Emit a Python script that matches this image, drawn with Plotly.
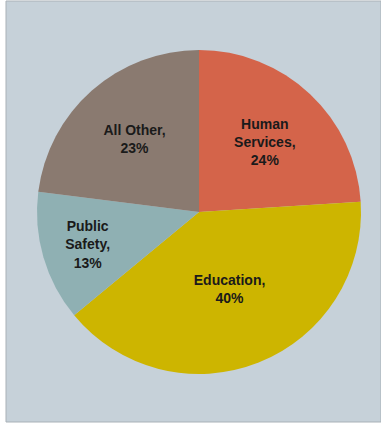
import plotly.graph_objects as go

# Budget share by function (percent of total)
categories = ["Human<br>Services", "Education", "Public<br>Safety", "All Other"]
shares = [24, 40, 13, 23]
slice_colors = ["#d4644a", "#cdb500", "#8fb0b3", "#8a7a70"]

W, H = 381, 425
cx, cy, r = 199, 212, 162  # pie centre and radius in pixels

fig = go.Figure(
    go.Pie(
        labels=categories,
        values=shares,
        sort=False,
        direction="clockwise",
        rotation=0,
        marker=dict(colors=slice_colors, line=dict(width=0)),
        texttemplate="<b>%{label},<br>%{value}%</b>",
        textposition="inside",
        insidetextorientation="horizontal",
        textfont=dict(family="Liberation Sans, Arial, sans-serif", size=14, color="#1a1a1a"),
        hoverinfo="label+percent",
        showlegend=False,
        domain=dict(
            x=[(cx - r) / W, (cx + r) / W],
            y=[(H - cy - r) / H, (H - cy + r) / H],
        ),
    )
)

fig.update_layout(
    width=W,
    height=H,
    margin=dict(l=0, r=0, t=0, b=0),
    paper_bgcolor="white",
    plot_bgcolor="white",
    shapes=[
        dict(
            type="rect", xref="paper", yref="paper",
            x0=6 / W, x1=1, y0=1 - 422 / H, y1=1 - 1 / H,
            fillcolor="#c6d1d9", line=dict(color="#a9b1b7", width=1),
            layer="below",
        )
    ],
)

fig.write_html("out.html")
